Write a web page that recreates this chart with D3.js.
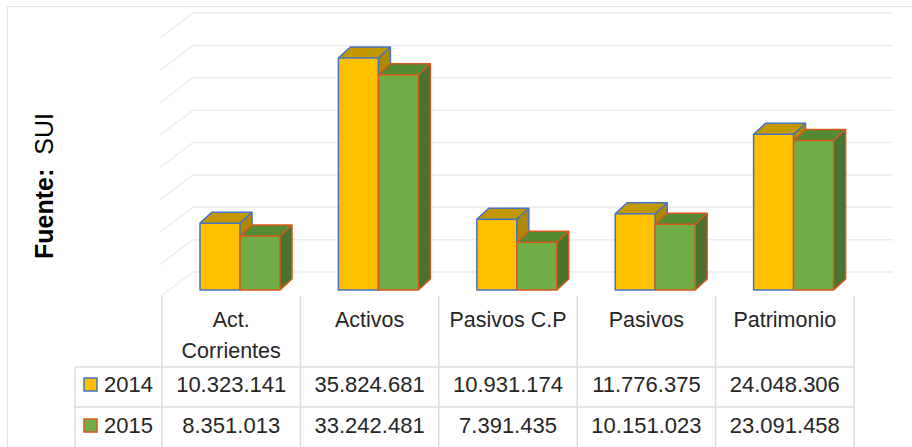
<!DOCTYPE html>
<html>
<head>
<meta charset="utf-8">
<script src="https://cdn.jsdelivr.net/npm/d3@7"></script>
<style>
  body { margin: 0; background: #fff; }
  svg { display: block; font-family: "Liberation Sans", Arial, sans-serif; }
</style>
</head>
<body>
<div id="chart"></div>
<script>

// width and height of the graph
var w = 912;
var h = 447;

// categories, header lines and series
var categories = ["Act. Corrientes", "Activos", "Pasivos C.P", "Pasivos", "Patrimonio"];
var headerLines = [["Act.", "Corrientes"], ["Activos"], ["Pasivos C.P"], ["Pasivos"], ["Patrimonio"]];
var years = ["2014", "2015"];
var values2014 = [10323141, 35824681, 10931174, 11776375, 24048306];
var values2015 = [8351013, 33242481, 7391435, 10151023, 23091458];
var valueLabels2014 = ["10.323.141", "35.824.681", "10.931.174", "11.776.375", "24.048.306"];
var valueLabels2015 = ["8.351.013", "33.242.481", "7.391.435", "10.151.023", "23.091.458"];
var gridTicks = [0, 5e6, 10e6, 15e6, 20e6, 25e6, 30e6, 35e6, 40e6];

// colors per series: front, top, side, border
var colors = {
  "2014": { front: "#FFC000", top: "#C49800", side: "#B08800", stroke: "#4472C4" },
  "2015": { front: "#70AD47", top: "#558A35", side: "#4A7230", stroke: "#D8581C" }
};

var series = [
  { year: "2014", values: values2014, labels: valueLabels2014 },
  { year: "2015", values: values2015, labels: valueLabels2015 }
];

// scales
var xScale = d3.scaleBand()
  .domain(categories)
  .range([162, 854])
  .padding(0);

var xInner = d3.scaleBand()
  .domain(years)
  .range([38, 118])
  .padding(0);

var yScale = d3.scaleLinear()
  .domain([0, 40e6])
  .range([290, 31]);

// depth offsets (bar and back wall)
var barDx = 12, barDy = -11;
var wallDx = 33, wallDy = -25, wallShift = -18;

var svg = d3.select("#chart").append("svg")
  .attr("width", w)
  .attr("height", h);

// outer chart border
svg.append("rect")
  .attr("x", 7.5)
  .attr("y", 6.5)
  .attr("width", w)
  .attr("height", h)
  .attr("fill", "none")
  .attr("stroke", "#E3E3E3");

// gridlines on the back wall plus the side wall diagonal
var grid = svg.append("g").attr("class", "grid");
grid.selectAll("path")
  .data(gridTicks)
  .enter()
  .append("path")
  .attr("d", function(d) {
    var yb = yScale(d) + wallShift;
    return "M" + 160 + "," + (yb - wallDy) + "L" + (160 + wallDx) + "," + yb + "L893," + yb;
  })
  .attr("fill", "none")
  .attr("stroke", "#EDEDED")
  .attr("stroke-width", 1.5);

// 3d bars
var bars = svg.append("g").attr("class", "bars");
categories.forEach(function(cat, i) {
  series.forEach(function(s) {
    var c = colors[s.year];
    var x0 = xScale(cat) + xInner(s.year);
    var x1 = x0 + xInner.bandwidth();
    var y0 = yScale(0);
    var y1 = yScale(s.values[i]);
    var g = bars.append("g");

    // front face
    g.append("rect")
      .attr("x", x0)
      .attr("y", y1)
      .attr("width", x1 - x0)
      .attr("height", y0 - y1)
      .attr("fill", c.front);

    // top face
    g.append("path")
      .attr("d", "M" + x0 + "," + y1 + "L" + (x0 + barDx) + "," + (y1 + barDy) +
        "L" + (x1 + barDx) + "," + (y1 + barDy) + "L" + x1 + "," + y1 + "Z")
      .attr("fill", c.top);

    // side face
    g.append("path")
      .attr("d", "M" + x1 + "," + y1 + "L" + (x1 + barDx) + "," + (y1 + barDy) +
        "L" + (x1 + barDx) + "," + (y0 + barDy) + "L" + x1 + "," + y0 + "Z")
      .attr("fill", c.side);

    // border lines
    g.append("path")
      .attr("d", "M" + x0 + "," + y0 + "L" + x0 + "," + y1 + "L" + (x0 + barDx) + "," + (y1 + barDy) +
        "L" + (x1 + barDx) + "," + (y1 + barDy) + "L" + (x1 + barDx) + "," + (y0 + barDy) +
        "L" + x1 + "," + y0 + "Z" +
        "M" + x0 + "," + y1 + "L" + x1 + "," + y1 + "L" + (x1 + barDx) + "," + (y1 + barDy) +
        "M" + x1 + "," + y1 + "L" + x1 + "," + y0)
      .attr("fill", "none")
      .attr("stroke", c.stroke)
      .attr("stroke-width", 1.5)
      .attr("stroke-linejoin", "round");
  });
});

// data table
var table = svg.append("g").attr("class", "table");
var lineColor = "#DCDCDC";
var colEdges = categories.map(function(c) { return xScale(c); }).concat([xScale.range()[1]]);

table.selectAll(".vline")
  .data(colEdges)
  .enter()
  .append("line")
  .attr("x1", function(d) { return d; })
  .attr("x2", function(d) { return d; })
  .attr("y1", 296)
  .attr("y2", h)
  .attr("stroke", lineColor)
  .attr("stroke-width", 1.5);

table.append("line")
  .attr("x1", 75).attr("x2", 75)
  .attr("y1", 367).attr("y2", h)
  .attr("stroke", lineColor).attr("stroke-width", 1.5);

[367, 407].forEach(function(yy) {
  table.append("line")
    .attr("x1", 75).attr("x2", xScale.range()[1])
    .attr("y1", yy).attr("y2", yy)
    .attr("stroke", lineColor).attr("stroke-width", 1.5);
});

// header labels
categories.forEach(function(cat, i) {
  headerLines[i].forEach(function(line, j) {
    table.append("text")
      .attr("x", xScale(cat) + xScale.bandwidth() / 2)
      .attr("y", 327 + j * 31)
      .attr("text-anchor", "middle")
      .attr("font-size", "21.5px")
      .attr("fill", "#262626")
      .text(line);
  });
});

// value rows with legend keys
var rowBase = [392, 433];
series.forEach(function(s, r) {
  var c = colors[s.year];
  table.append("rect")
    .attr("x", 84)
    .attr("y", rowBase[r] - 14)
    .attr("width", 13)
    .attr("height", 13)
    .attr("fill", c.front)
    .attr("stroke", c.stroke)
    .attr("stroke-width", 1.5);

  table.append("text")
    .attr("x", 104)
    .attr("y", rowBase[r])
    .attr("font-size", "22px")
    .attr("fill", "#262626")
    .text(s.year);

  categories.forEach(function(cat, i) {
    table.append("text")
      .attr("x", xScale(cat) + xScale.bandwidth() / 2)
      .attr("y", rowBase[r])
      .attr("text-anchor", "middle")
      .attr("font-size", "22px")
      .attr("fill", "#262626")
      .text(s.labels[i]);
  });
});

// y axis title
var yTitle = svg.append("text")
  .attr("transform", "translate(53,186) rotate(-90)")
  .attr("text-anchor", "middle")
  .attr("font-size", "25px")
  .attr("fill", "#000");
yTitle.append("tspan")
  .attr("font-weight", "bold")
  .text("Fuente:");
yTitle.append("tspan")
  .attr("dx", 14)
  .text("SUI");

</script>
</body>
</html>
